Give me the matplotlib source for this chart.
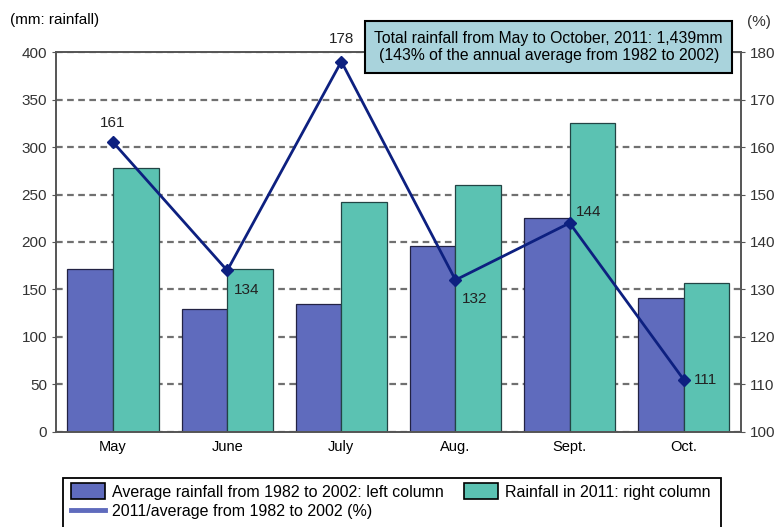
import numpy as np
import matplotlib.pyplot as plt
from matplotlib.patches import Patch, Rectangle
from matplotlib.lines import Line2D

plt.rcParams['font.family'] = ['Liberation Sans', 'DejaVu Sans']

# ====== dados ======
months = ["May", "June", "July", "Aug.", "Sept.", "Oct."]
avg_rain = [172, 129, 135, 196, 225, 141]      # 1982-2002 average (mm)
rain_2011 = [278, 172, 242, 260, 325, 157]     # 2011 (mm)
ratio = [161, 134, 178, 132, 144, 111]         # 2011/average (%)

# label offsets in points (style only)
label_offsets = [(0, 14), (14, -14), (0, 16), (14, -14), (14, 8), (16, 0)]

c_avg = "#5f6bbd"
c_2011 = "#5bc2b2"
c_line = "#0d2080"

fig = plt.figure(figsize=(7.8, 5.27), dpi=100)
ax = fig.add_axes([0.0718, 0.1803, 0.878, 0.7210])

x = np.arange(len(months))
w = 0.4
ax.set_axisbelow(True)
ax.yaxis.grid(True, linestyle=(0, (3, 2)), color="#707070", lw=1.6)
ax.bar(x - w/2, avg_rain, w, color=c_avg, edgecolor="#222244", lw=0.9, zorder=2)
ax.bar(x + w/2, rain_2011, w, color=c_2011, edgecolor="#224444", lw=0.9, zorder=2)

ax.set_xlim(-0.5, len(months) - 0.5)
ax.set_ylim(0, 400)
ax.set_yticks(range(0, 401, 50))
ax.set_xticks(x)
ax.set_xticklabels(months, fontsize=10.5)
ax.tick_params(axis="x", length=0, pad=6)
ax.tick_params(axis="y", labelsize=11, labelcolor="#333333", length=3, color="#555555")
for s in ax.spines.values():
    s.set_color("#555555")
    s.set_linewidth(1.2)

ax2 = ax.twinx()
ax2.set_ylim(100, 180)
ax2.set_yticks(range(100, 181, 10))
ax2.tick_params(axis="y", labelsize=11, labelcolor="#333333", length=3, color="#555555")
ax2.plot(x, ratio, color=c_line, lw=2, marker="D", ms=6.5, zorder=5)
for xi, v, off in zip(x, ratio, label_offsets):
    ax2.annotate(str(v), (xi, v), xytext=off, textcoords="offset points",
                 ha="center", va="center", fontsize=11, color="#222222")
for s in ax2.spines.values():
    s.set_color("#555555")
    s.set_linewidth(1.2)

fig.text(0.013, 0.962, "(mm: rainfall)", fontsize=11, va="center")
fig.text(0.958, 0.958, "(%)", fontsize=11, va="center", color="#333333")

fig.text(0.7035, 0.911,
         "Total rainfall from May to October, 2011: 1,439mm\n(143% of the annual average from 1982 to 2002)",
         ha="center", va="center", fontsize=11.3, linespacing=1.2,
         bbox=dict(boxstyle="square,pad=0.6", fc="#a9d3dc", ec="black", lw=1.5),
         zorder=10)

# legend frame drawn separately so it spans the full width
fig.patches.append(Rectangle((63/780, -0.02), (721-63)/780, 1 - 478/527 + 0.02,
                             transform=fig.transFigure, fc="white", ec="black", lw=1.3))
handles = [Patch(facecolor=c_avg, edgecolor="black", lw=1.2),
           Line2D([], [], color=c_avg, lw=3.5),
           Patch(facecolor=c_2011, edgecolor="black", lw=1.2)]
labels = ["Average rainfall from 1982 to 2002: left column",
          "2011/average from 1982 to 2002 (%)",
          "Rainfall in 2011: right column"]
leg = fig.legend(handles, labels, ncol=2, loc="upper left",
                 bbox_to_anchor=(71/780, 1 - 483/527), fontsize=11.5,
                 frameon=False, handlelength=2.1, handleheight=1.2,
                 columnspacing=1.3, labelspacing=0.2, borderpad=0,
                 handletextpad=0.45, borderaxespad=0)

fig.savefig("out.png", dpi=100)
